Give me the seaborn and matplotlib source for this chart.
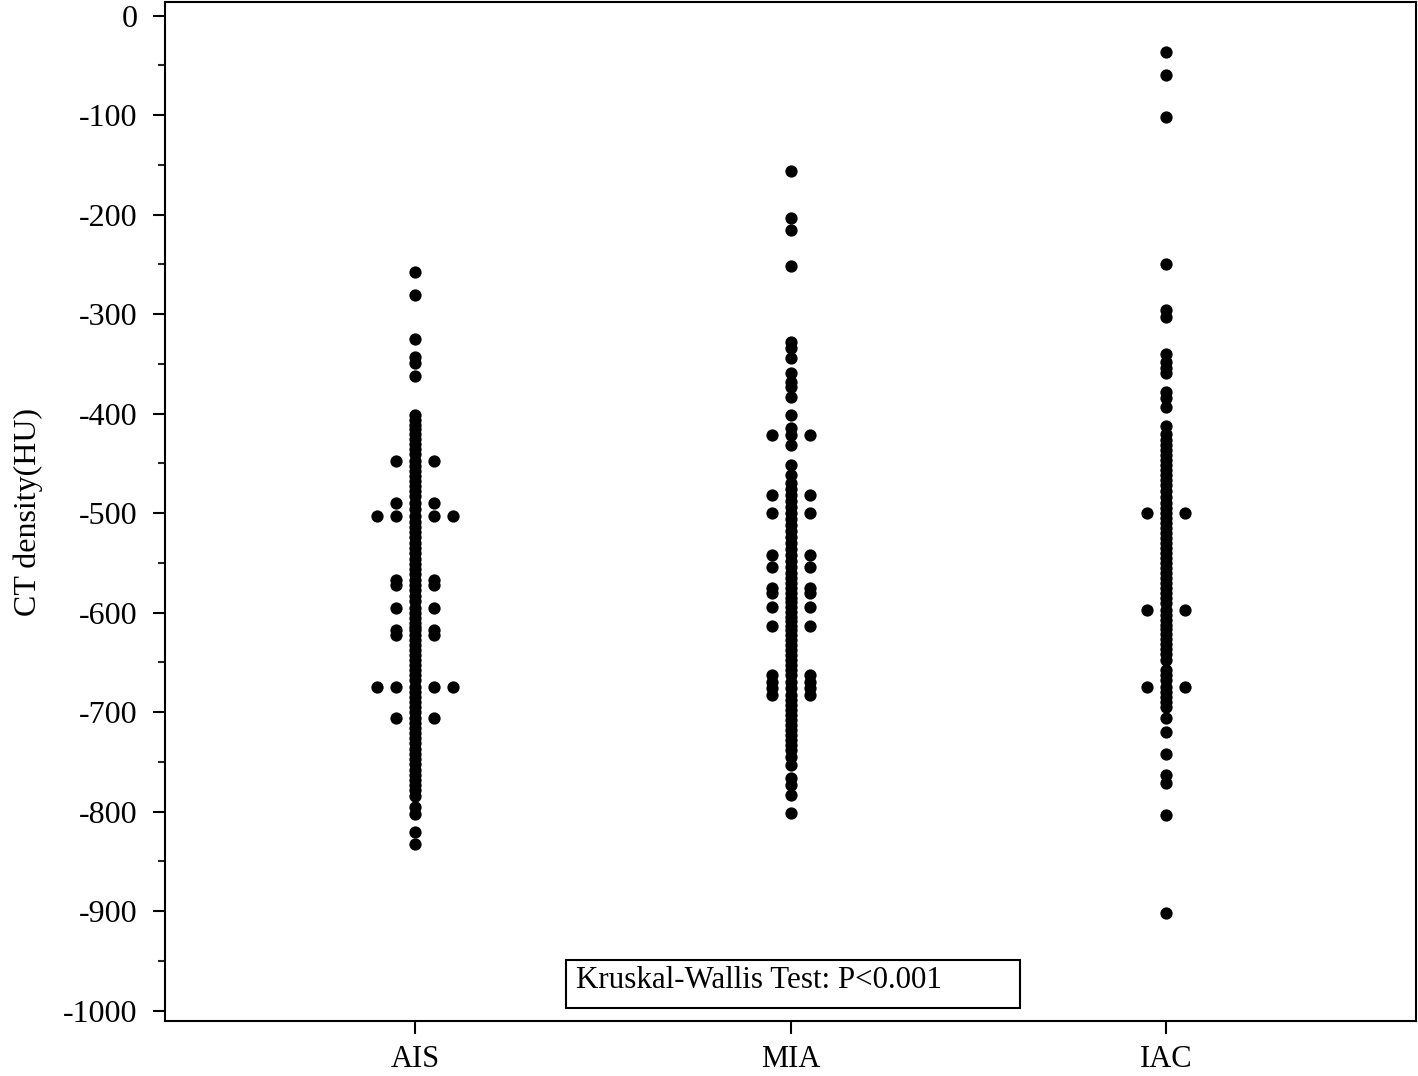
import numpy as np
import pandas as pd
import seaborn as sns
import matplotlib.pyplot as plt
from matplotlib.patches import Rectangle
from matplotlib.ticker import MultipleLocator

# CT density (HU) per group, repeated values are tied points drawn side by side
groups = ['AIS', 'MIA', 'IAC']

ais = [-258, -281, -325, -343, -349, -362,
       -401, -406, -411, -416, -421, -426, -431, -436, -441, -448, -448, -448,
       -453, -458, -463, -468, -473, -478, -483, -490, -490, -490, -496,
       -503, -503, -503, -503, -503, -509, -514, -519, -524, -530, -535, -540,
       -546, -551, -556, -561, -567, -567, -567, -572, -572, -572, -577, -583,
       -588, -595, -595, -595, -600, -605, -610, -614, -618, -618, -618,
       -623, -623, -623, -628, -633, -638, -643, -648, -653, -658, -663, -668,
       -675, -675, -675, -675, -675, -680, -685, -690, -695, -700,
       -706, -706, -706, -711, -716, -721, -726, -731, -737, -742, -747, -752,
       -758, -763, -768, -773, -778, -784, -795, -802, -821, -833]

mia = [-156, -203, -216, -252, -328, -334, -344, -359, -368, -373, -383, -401,
       -415, -422, -422, -422, -432, -452, -462, -470, -476, -482, -482, -482,
       -488, -494, -500, -500, -500, -506, -512, -518, -524, -530, -536,
       -542, -542, -542, -548, -554, -554, -554, -560, -565, -570,
       -575, -575, -575, -580, -580, -580, -585, -589, -594, -594, -594,
       -599, -604, -608, -613, -613, -613, -618, -623, -628, -633, -638, -643,
       -648, -653, -658, -663, -663, -663, -670, -670, -670, -676, -676, -676,
       -683, -683, -683, -688, -693, -698, -703, -708, -713, -718, -723, -728,
       -733, -738, -745, -753, -766, -773, -783, -801]

iac = [-37, -60, -102, -250, -296, -303, -340, -348, -354, -359, -378, -384,
       -393, -412, -421, -427, -432, -437, -442, -447, -452, -457, -462, -467,
       -472, -478, -484, -490, -495, -500, -500, -500, -505, -510, -515, -520,
       -525, -530, -535, -540, -545, -550, -555, -560, -565, -570, -575, -580,
       -585, -590, -597, -597, -597, -602, -607, -612, -617, -622, -627, -632,
       -637, -642, -648, -658, -663, -668, -675, -675, -675, -680, -685, -690,
       -695, -706, -720, -742, -763, -771, -803, -902]

p_text = 'Kruskal-Wallis Test: P<0.001'


df = pd.DataFrame({
    'Group': ['AIS'] * len(ais) + ['MIA'] * len(mia) + ['IAC'] * len(iac),
    'HU': ais + mia + iac,
})

# tied values spread out from the centre: 0, -1, +1, -2, +2 ...
k = df.groupby(['Group', 'HU']).cumcount()
side = np.where(k % 2 == 1, -1, 1) * ((k + 1) // 2)
df['x'] = df['Group'].map({g: i for i, g in enumerate(groups)}) + side * 0.0506

sns.set_theme(style='white')
plt.rcParams['font.family'] = ['Liberation Serif', 'DejaVu Serif']
plt.rcParams['axes.unicode_minus'] = False
plt.rcParams['text.color'] = 'black'

fig = plt.figure(figsize=(14.18, 10.76), dpi=100)
ax = fig.add_axes([0.1164, 0.0511, 0.8822, 0.9470])

sns.scatterplot(data=df, x='x', y='HU', color='black', s=78, linewidth=0, ax=ax)

ax.set_xlim(-0.666, 2.666)
ax.set_ylim(-1010.5, 13.6)
ax.set_xticks(range(len(groups)))
ax.set_xticklabels(groups)
ax.yaxis.set_major_locator(MultipleLocator(100))
ax.yaxis.set_minor_locator(MultipleLocator(50))
ax.tick_params(axis='both', which='major', direction='out', length=9, width=1.5,
               labelsize=23, colors='black', left=True, bottom=True)
ax.tick_params(axis='y', which='minor', direction='out', length=5, width=1.5, left=True)
ax.tick_params(axis='x', pad=8, labelsize=22)
ax.tick_params(axis='y', pad=11)
for s in ax.spines.values():
    s.set_visible(True)
    s.set_color('black')
    s.set_linewidth(1.5)
ax.set_xlabel('')
ax.set_ylabel('CT density(HU)', fontsize=23, color='black', labelpad=14)

ax.add_patch(Rectangle((0.3205, 0.0128), 0.363, 0.0471, transform=ax.transAxes,
                       facecolor='white', edgecolor='black', linewidth=1.5, zorder=3))
ax.text(0.3285, 0.040, p_text, transform=ax.transAxes, fontsize=22.3, color='black',
        va='center', ha='left', zorder=4)

fig.savefig('out.png', dpi=100)
